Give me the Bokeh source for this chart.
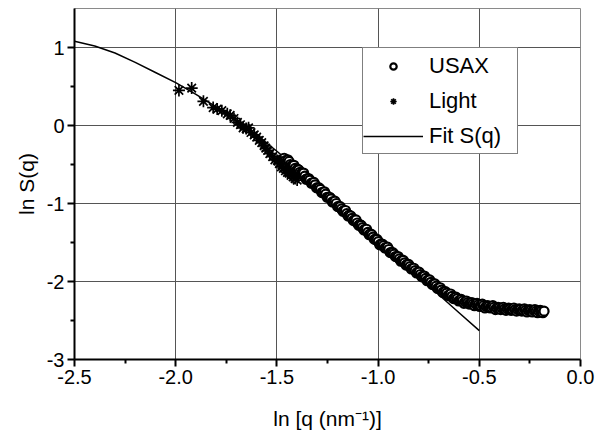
from bokeh.plotting import figure
from bokeh.models import FixedTicker, Legend, LegendItem
from bokeh.embed import file_html
from bokeh.resources import INLINE

# ---------------- data ----------------
usax_x = [-1.470, -1.464, -1.458, -1.452, -1.446, -1.440, -1.434, -1.428, -1.422, -1.416,
          -1.410, -1.404, -1.398, -1.392, -1.386, -1.380, -1.374, -1.368, -1.362, -1.356,
          -1.350, -1.343, -1.337, -1.330, -1.324, -1.317, -1.311, -1.304, -1.298, -1.291,
          -1.285, -1.278, -1.272, -1.265, -1.259, -1.252, -1.246, -1.239, -1.233, -1.226,
          -1.220, -1.213, -1.207, -1.200, -1.194, -1.187, -1.181, -1.174, -1.168, -1.161,
          -1.155, -1.148, -1.142, -1.135, -1.129, -1.122, -1.116, -1.109, -1.103, -1.096,
          -1.090, -1.083, -1.077, -1.070, -1.064, -1.057, -1.051, -1.044, -1.038, -1.031,
          -1.025, -1.018, -1.012, -1.005, -0.999, -0.992, -0.986, -0.979, -0.973, -0.966,
          -0.960, -0.953, -0.947, -0.940, -0.934, -0.927, -0.921, -0.914, -0.908, -0.901,
          -0.895, -0.888, -0.882, -0.875, -0.869, -0.862, -0.856, -0.849, -0.843, -0.836,
          -0.830, -0.823, -0.817, -0.810, -0.804, -0.797, -0.791, -0.784, -0.778, -0.771,
          -0.765, -0.758, -0.752, -0.745, -0.739, -0.732, -0.726, -0.719, -0.713, -0.706,
          -0.700, -0.693, -0.687, -0.680, -0.674, -0.667, -0.661, -0.654, -0.648, -0.641,
          -0.635, -0.628, -0.622, -0.615, -0.609, -0.602, -0.596, -0.589, -0.583, -0.576,
          -0.570, -0.563, -0.557, -0.550, -0.544, -0.537, -0.531, -0.524, -0.518, -0.511,
          -0.505, -0.498, -0.492, -0.485, -0.479, -0.472, -0.466, -0.459, -0.453, -0.446,
          -0.440, -0.433, -0.427, -0.420, -0.414, -0.407, -0.401, -0.394, -0.388, -0.381,
          -0.375, -0.368, -0.362, -0.355, -0.349, -0.342, -0.336, -0.329, -0.323, -0.316,
          -0.310, -0.303, -0.297, -0.290, -0.284, -0.277, -0.271, -0.264, -0.258, -0.251,
          -0.245, -0.238, -0.232, -0.225, -0.219, -0.212, -0.206, -0.199, -0.193, -0.186,
          -0.180]
usax_y = [-0.43, -0.42, -0.45, -0.47, -0.44, -0.46, -0.50, -0.52, -0.51, -0.51,
          -0.55, -0.58, -0.56, -0.57, -0.60, -0.62, -0.61, -0.61, -0.65, -0.69,
          -0.68, -0.68, -0.70, -0.74, -0.74, -0.73, -0.76, -0.80, -0.80, -0.80,
          -0.82, -0.86, -0.86, -0.85, -0.88, -0.92, -0.92, -0.92, -0.94, -0.98,
          -0.98, -0.97, -1.00, -1.04, -1.04, -1.04, -1.07, -1.10, -1.09, -1.09,
          -1.13, -1.16, -1.15, -1.16, -1.19, -1.22, -1.21, -1.21, -1.25, -1.28,
          -1.27, -1.28, -1.31, -1.34, -1.33, -1.33, -1.37, -1.40, -1.39, -1.40,
          -1.43, -1.46, -1.46, -1.46, -1.49, -1.53, -1.52, -1.52, -1.54, -1.57,
          -1.57, -1.56, -1.59, -1.63, -1.63, -1.63, -1.65, -1.68, -1.68, -1.68,
          -1.71, -1.74, -1.73, -1.73, -1.76, -1.79, -1.78, -1.78, -1.81, -1.84,
          -1.83, -1.83, -1.86, -1.89, -1.88, -1.88, -1.91, -1.94, -1.93, -1.93,
          -1.96, -1.99, -1.98, -1.98, -2.01, -2.04, -2.03, -2.03, -2.06, -2.09,
          -2.08, -2.08, -2.11, -2.14, -2.13, -2.13, -2.15, -2.18, -2.17, -2.16,
          -2.19, -2.22, -2.21, -2.20, -2.22, -2.25, -2.24, -2.23, -2.25, -2.28,
          -2.26, -2.25, -2.27, -2.29, -2.28, -2.27, -2.29, -2.31, -2.29, -2.28,
          -2.30, -2.32, -2.31, -2.29, -2.31, -2.34, -2.32, -2.31, -2.32, -2.34,
          -2.33, -2.31, -2.33, -2.36, -2.34, -2.33, -2.34, -2.36, -2.34, -2.33,
          -2.35, -2.37, -2.35, -2.34, -2.35, -2.37, -2.36, -2.34, -2.36, -2.38,
          -2.36, -2.35, -2.36, -2.38, -2.37, -2.35, -2.37, -2.39, -2.37, -2.36,
          -2.37, -2.39, -2.37, -2.36, -2.38, -2.40, -2.38, -2.37, -2.38, -2.40,
          -2.38]

light_x = [-1.984, -1.921, -1.863, -1.815, -1.795, -1.772, -1.745, -1.731, -1.712, -1.695,
           -1.680, -1.667, -1.652, -1.640, -1.628, -1.612, -1.600, -1.587, -1.575, -1.563,
           -1.555, -1.546, -1.535, -1.521, -1.510, -1.497, -1.488, -1.478, -1.468, -1.458,
           -1.448, -1.440, -1.430, -1.420, -1.410, -1.400]
light_y = [0.45, 0.48, 0.31, 0.23, 0.21, 0.19, 0.15, 0.13, 0.09, 0.04,
           0.01, -0.03, -0.04, -0.03, -0.09, -0.12, -0.15, -0.19, -0.22, -0.26,
           -0.29, -0.32, -0.36, -0.40, -0.44, -0.45, -0.49, -0.53, -0.55, -0.58,
           -0.60, -0.61, -0.64, -0.66, -0.68, -0.70]

fit_x = [-2.5, -2.4, -2.3, -2.2, -2.1, -2.0, -1.9, -1.8, -1.7, -1.6, -1.5,
         -1.4, -1.3, -1.2, -1.1, -1.0, -0.9, -0.8, -0.7, -0.6, -0.5]
fit_y = [1.08, 1.02, 0.93, 0.81, 0.68, 0.55, 0.40, 0.24, 0.07, -0.12, -0.33,
         -0.55, -0.78, -1.01, -1.24, -1.48, -1.71, -1.94, -2.17, -2.40, -2.63]

x_ticks = [-2.5, -2.0, -1.5, -1.0, -0.5, 0.0]
x_tick_labels = ["-2.5", "-2.0", "-1.5", "-1.0", "-0.5", "0.0"]
x_minor = [-2.25, -1.75, -1.25, -0.75, -0.25]
y_ticks = [-3, -2, -1, 0, 1]
y_tick_labels = ["-3", "-2", "-1", "0", "1"]
y_minor = [-2.5, -1.5, -0.5, 0.5]

series_labels = ["USAX", "Light", "Fit S(q)"]

FONT = "Liberation Sans"

p = figure(width=609, height=436, output_backend="svg", toolbar_location=None,
           x_range=(-2.5, 0.0), y_range=(-3.0, 1.5),
           min_border_left=74, min_border_right=29, min_border_top=8, min_border_bottom=77)

p.outline_line_color = "#8a8a8a"
p.outline_line_width = 1

r_fit = p.line(fit_x, fit_y, line_color="black", line_width=1.5)
r_usax = p.scatter(usax_x, usax_y, marker="circle", size=9, fill_color="white",
                   line_color="black", line_width=2.2)
r_light = p.scatter(light_x, light_y, marker="asterisk", size=12, line_color="black",
                    line_width=1.7)

for ax, ticks, labels, minor in ((p.xaxis[0], x_ticks, x_tick_labels, x_minor),
                                 (p.yaxis[0], y_ticks, y_tick_labels, y_minor)):
    ax.ticker = FixedTicker(ticks=ticks, minor_ticks=minor)
    ax.major_label_overrides = {t: l for t, l in zip(ticks, labels)}
    ax.axis_line_width = 2
    ax.axis_line_color = "black"
    ax.major_tick_line_width = 2
    ax.major_tick_line_color = "black"
    ax.minor_tick_line_width = 2
    ax.minor_tick_line_color = "black"
    ax.major_tick_in = 0
    ax.major_tick_out = 7
    ax.minor_tick_in = 0
    ax.minor_tick_out = 4
    ax.major_label_text_font = FONT
    ax.major_label_text_font_size = "20px"
    ax.major_label_text_color = "black"
    ax.major_label_standoff = 3
    ax.axis_label_text_font = FONT
    ax.axis_label_text_font_size = "21px"
    ax.axis_label_text_font_style = "normal"
    ax.axis_label_text_color = "black"

p.xaxis.axis_label = "ln [q (nm⁻¹)]"
p.xaxis.axis_label_standoff = 20
p.yaxis.axis_label = "ln S(q)"
p.yaxis.axis_label_standoff = 6

p.xgrid.ticker = FixedTicker(ticks=[-2.0, -1.5, -1.0, -0.5])
p.ygrid.ticker = FixedTicker(ticks=[-2, -1, 0, 1])
p.grid.grid_line_color = "#555555"
p.grid.grid_line_width = 1

legend = Legend(items=[LegendItem(label=series_labels[0], renderers=[r_usax]),
                       LegendItem(label=series_labels[1], renderers=[r_light]),
                       LegendItem(label=series_labels[2], renderers=[r_fit])],
                location=(288, 205))
legend.padding = 0
legend.spacing = 0
legend.margin = 0
legend.glyph_width = 60
legend.glyph_height = 16
legend.label_height = 35
legend.label_width = 88
legend.label_standoff = 6
legend.label_text_font = FONT
legend.label_text_font_size = "22px"
legend.label_text_color = "black"
legend.border_line_color = "black"
legend.border_line_width = 1.5
legend.background_fill_alpha = 1.0
p.add_layout(legend, "center")

open("out.html", "w").write(file_html(p, INLINE))
